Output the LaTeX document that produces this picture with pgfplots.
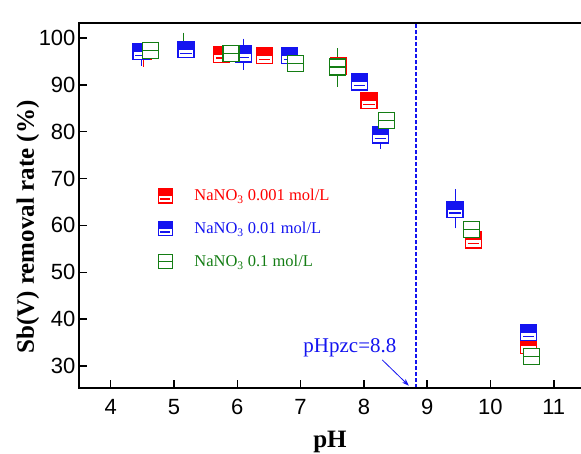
\documentclass[border=0pt]{standalone}
\usepackage{fontspec}
\setmainfont{Liberation Serif}
\setsansfont{Liberation Sans}
\usepackage{pgfplots}
\pgfplotsset{compat=1.18}
\usetikzlibrary{arrows.meta}
\definecolor{cred}{RGB}{255,0,0}
\definecolor{cblue}{RGB}{20,20,240}
\definecolor{cgreen}{RGB}{20,125,20}

\pgfdeclareplotmark{halfbox}{%
  \pgfscope\pgfsetfillcolor{white}%
  \pgfpathrectangle{\pgfqpoint{-\pgfplotmarksize}{-\pgfplotmarksize}}{\pgfqpoint{2\pgfplotmarksize}{2\pgfplotmarksize}}%
  \pgfusepathqfill\endpgfscope
  \pgfpathrectangle{\pgfqpoint{-\pgfplotmarksize}{-0.05\pgfplotmarksize}}{\pgfqpoint{2\pgfplotmarksize}{1.05\pgfplotmarksize}}%
  \pgfusepathqfill
  \pgfpathrectangle{\pgfqpoint{-\pgfplotmarksize}{-\pgfplotmarksize}}{\pgfqpoint{2\pgfplotmarksize}{2\pgfplotmarksize}}%
  \pgfusepathqstroke
  \pgfpathmoveto{\pgfqpoint{-0.7\pgfplotmarksize}{-0.45\pgfplotmarksize}}%
  \pgfpathlineto{\pgfqpoint{0.7\pgfplotmarksize}{-0.45\pgfplotmarksize}}%
  \pgfusepathqstroke
}
\pgfdeclareplotmark{linebox}{%
  \pgfscope\pgfsetfillcolor{white}%
  \pgfpathrectangle{\pgfqpoint{-\pgfplotmarksize}{-\pgfplotmarksize}}{\pgfqpoint{2\pgfplotmarksize}{2\pgfplotmarksize}}%
  \pgfusepathqfill\endpgfscope
  \pgfpathrectangle{\pgfqpoint{-\pgfplotmarksize}{-\pgfplotmarksize}}{\pgfqpoint{2\pgfplotmarksize}{2\pgfplotmarksize}}%
  \pgfusepathqstroke
  \pgfpathmoveto{\pgfqpoint{-\pgfplotmarksize}{0pt}}%
  \pgfpathlineto{\pgfqpoint{\pgfplotmarksize}{0pt}}%
  \pgfusepathqstroke
}
\pgfplotsset{mylegimg/.style={legend image code/.code={\path (0cm,0cm) (1.3cm,0cm);\draw[mark repeat=2,mark phase=2,##1,mark size=7pt] plot coordinates {(0cm,0cm)(0.35cm,0cm)(1.3cm,0cm)};}}}

\begin{document}
\begin{tikzpicture}
\useasboundingbox (0,0) rectangle (581pt,454pt);
\begin{axis}[
  at={(79pt,66pt)}, anchor=south west,
  scale only axis, width=502pt, height=365pt,
  xmin=3.5, xmax=11.43, ymin=25.3, ymax=103.2,
  xtick={4,...,11}, ytick={30,40,...,100},
  tick align=inside, xtick pos=bottom, ytick pos=left,
  major tick length=8pt,
  every tick/.style={black, line width=1.5pt},
  axis line style={draw=none},
  /pgf/number format/assume math mode=true,
  ticklabel style={font=\sffamily\fontsize{22}{22}\selectfont},
  xticklabel style={yshift=-8pt},
  xlabel={\textbf{pH}}, ylabel={\textbf{Sb(V) removal rate (\%)}},
  label style={font=\fontsize{25}{25}\selectfont},
  xlabel style={at={(axis description cs:0.5,-0.148)}, anchor=center},
  ylabel style={at={(axis description cs:-0.102,0.441)}, anchor=center},
  clip=false,
  legend cell align=left,
  legend style={at={(axis description cs:0.151,0.55)}, anchor=north west, draw=none, fill=none,
    font=\fontsize{16.5}{16.5}\selectfont, row sep=16pt, inner sep=0pt},
]
% pHpzc line
\addplot[forget plot, cblue, line width=2pt, dash pattern=on 3.5pt off 2.5pt] coordinates {(8.83,25.3) (8.83,103.2)};

% whiskers
\addplot[forget plot, draw=none, error bars/.cd, y dir=both, y explicit,
  error bar style={draw=cred, line width=1pt}, error mark options={draw=cred, line width=1pt, mark size=4pt}]
  coordinates {(4.52,97.2) += (0,0) -= (0,2.5)};
\addplot[forget plot, draw=none, error bars/.cd, y dir=both, y explicit,
  error bar style={draw=cblue, line width=1pt}, error mark options={draw=cblue, line width=1pt, mark size=4pt}]
  coordinates {(4.48,97.1) += (0,0) -= (0,2.2)
               (6.10,96.6) += (0,2.4) -= (0,2.5)
               (8.26,79.3) += (0,2.3) -= (0,2.1)
               (9.44,63.4) += (0,3.5) -= (0,3.2)};
\addplot[forget plot, draw=none, error bars/.cd, y dir=both, y explicit,
  error bar style={draw=cgreen, line width=1pt}, error mark options={draw=cgreen, line width=1pt, mark size=4pt}]
  coordinates {(5.15,97.5) += (0,2.8) -= (0,0)
               (7.58,93.8) += (0,3.2) -= (0,3.4)};

% boxes
\addplot[only marks, mylegimg, mark=halfbox, mark size=8pt, mark options={draw=cred, fill=cred, line width=1.2pt}]
  coordinates {(4.52,97.2) (5.19,97.6) (5.75,96.5) (6.43,96.2) (7.60,94.0) (8.08,86.6) (9.73,56.9) (10.60,34.3)};
\addlegendentry{\textcolor{cred}{NaNO\textsubscript{3} 0.001 mol/L}}
\addplot[only marks, mylegimg, mark=halfbox, mark size=8pt, mark options={draw=cblue, fill=cblue, line width=1.2pt}]
  coordinates {(4.48,97.1) (5.19,97.5) (6.10,96.6) (6.82,96.2) (7.93,90.6) (8.26,79.3) (9.44,63.4) (10.60,37.1)};
\addlegendentry{\textcolor{cblue}{NaNO\textsubscript{3} 0.01 mol/L}}
\addplot[only marks, mylegimg, mark=linebox, mark size=8pt, mark options={draw=cgreen, fill=white, line width=1.2pt}]
  coordinates {(4.63,97.4) (5.90,96.7) (6.92,94.5) (7.58,93.8) (8.36,82.4) (9.70,59.1) (10.65,32.0)};
\addlegendentry{\textcolor{cgreen}{NaNO\textsubscript{3} 0.1 mol/L}}

\node[cblue, font=\fontsize{21}{21}\selectfont] at (axis cs:7.78,33.9) {pHpzc=8.8};
\draw[cblue, line width=0.8pt, -{Stealth[length=7pt,width=5pt]}] (axis cs:8.29,31.3) -- (axis cs:8.71,25.8);

\draw[line width=1.5pt] (rel axis cs:1,1) -- (rel axis cs:0,1) -- (rel axis cs:0,0) -- (rel axis cs:1,0);
\end{axis}
\end{tikzpicture}
\end{document}
